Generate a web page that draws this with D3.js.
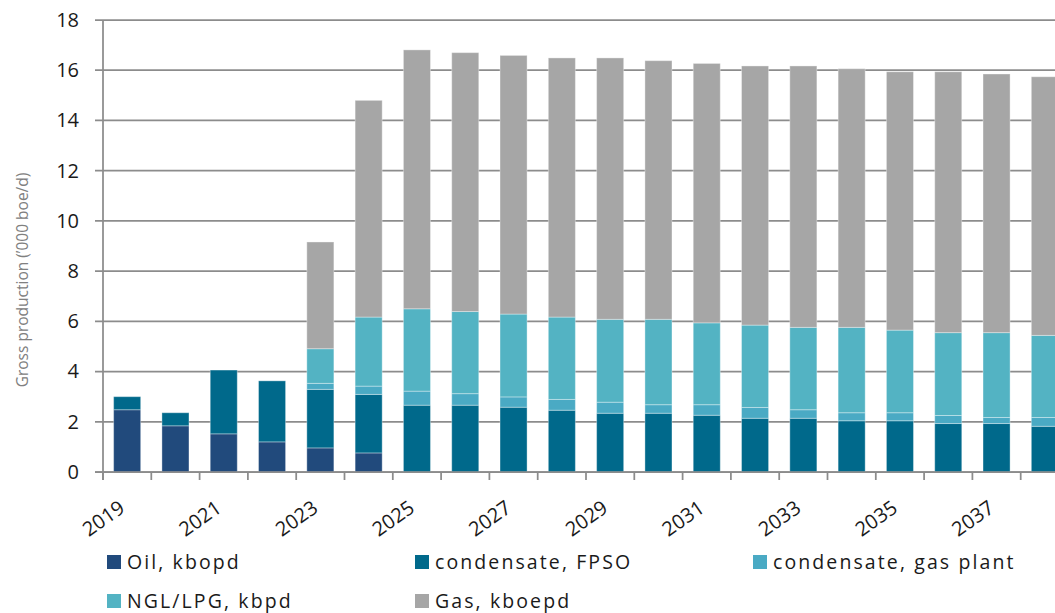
<!DOCTYPE html>
<html>
<head>
<meta charset="utf-8">
<script src="https://cdn.jsdelivr.net/npm/d3@7"></script>
<style>
    html, body { margin: 0; padding: 0; background: #fff; overflow: hidden; }
    #chart { width: 1055px; height: 613px; }
</style>
</head>
<body>
<div id="chart"></div>
<script>
// 数据
const years = ["2019", "2020", "2021", "2022", "2023", "2024", "2025", "2026", "2027", "2028",
    "2029", "2030", "2031", "2032", "2033", "2034", "2035", "2036", "2037", "2038"];
const oil = [2.48, 1.84, 1.52, 1.20, 0.96, 0.76, 0, 0, 0, 0, 0, 0, 0, 0, 0, 0, 0, 0, 0, 0];
const condFpso = [0.52, 0.52, 2.54, 2.43, 2.33, 2.33, 2.66, 2.66, 2.58, 2.46,
    2.34, 2.34, 2.26, 2.14, 2.14, 2.04, 2.04, 1.93, 1.93, 1.82];
const condGasPlant = [0, 0, 0, 0, 0.24, 0.33, 0.56, 0.46, 0.41, 0.43,
    0.44, 0.34, 0.42, 0.43, 0.34, 0.32, 0.32, 0.32, 0.24, 0.35];
const nglLpg = [0, 0, 0, 0, 1.38, 2.75, 3.28, 3.27, 3.30, 3.28,
    3.30, 3.40, 3.26, 3.28, 3.28, 3.40, 3.29, 3.30, 3.38, 3.27];
const gas = [0, 0, 0, 0, 4.25, 8.63, 10.31, 10.31, 10.30, 10.32,
    10.41, 10.30, 10.33, 10.32, 10.41, 10.30, 10.29, 10.39, 10.30, 10.30];

const seriesNames = ["Oil, kbopd", "condensate, FPSO", "condensate, gas plant", "NGL/LPG, kbpd", "Gas, kboepd"];
const seriesColors = ["#214a7c", "#00698b", "#4aaac4", "#53b3c3", "#a6a6a6"];
const yTicks = [0, 2, 4, 6, 8, 10, 12, 14, 16, 18];
const labelYears = ["2019", "2021", "2023", "2025", "2027", "2029", "2031", "2033", "2035", "2037"];

const FONT = "'Open Sans', 'Liberation Sans', sans-serif";

let svg = null;

function initSvg() {
    svg = d3.select("#chart").append("svg")
        .attr("width", 1055)
        .attr("height", 613)
        .style("font-family", FONT);
}

function drawChart() {
    const left = 103, top = 20, bottom = 472;
    const step = 48.3;
    const right = left + step * years.length;

    const x = d3.scaleBand()
        .domain(years)
        .range([left, right])
        .paddingInner(0.44)
        .paddingOuter(0.22);

    const y = d3.scaleLinear()
        .domain([0, 18])
        .range([bottom, top]);

    // 网格线
    svg.append("g")
        .selectAll("line")
        .data(yTicks)
        .join("line")
        .attr("x1", left - 8)
        .attr("x2", right)
        .attr("y1", d => y(d))
        .attr("y2", d => y(d))
        .attr("stroke", "#8c8c8c")
        .attr("stroke-width", 1.75);

    // y轴标签
    const yAxis = d3.axisLeft(y).tickValues(yTicks).tickSize(0).tickPadding(24);
    const yg = svg.append("g").attr("transform", `translate(${left},0)`).call(yAxis);
    yg.select(".domain").remove();
    yg.selectAll("text")
        .attr("font-family", FONT)
        .attr("font-size", 20)
        .attr("fill", "#1a1a1a");

    // 堆叠数据
    const table = years.map((yr, i) => ({
        year: yr,
        s0: oil[i], s1: condFpso[i], s2: condGasPlant[i], s3: nglLpg[i], s4: gas[i]
    }));
    const stack = d3.stack().keys(["s0", "s1", "s2", "s3", "s4"])(table);

    svg.append("g")
        .selectAll("g")
        .data(stack)
        .join("g")
        .attr("fill", (d, i) => seriesColors[i])
        .selectAll("rect")
        .data(d => d.filter(p => p[1] - p[0] > 0))
        .join("rect")
        .attr("x", d => x(d.data.year))
        .attr("width", x.bandwidth())
        .attr("y", d => y(d[1]))
        .attr("height", d => y(d[0]) - y(d[1]))
        .attr("stroke", "rgba(255,255,255,0.35)")
        .attr("stroke-width", 1);

    // 坐标轴线
    svg.append("line")
        .attr("x1", left).attr("x2", left)
        .attr("y1", top).attr("y2", bottom + 8)
        .attr("stroke", "#8c8c8c").attr("stroke-width", 1.75);
    svg.append("line")
        .attr("x1", left - 8).attr("x2", right)
        .attr("y1", bottom).attr("y2", bottom)
        .attr("stroke", "#8c8c8c").attr("stroke-width", 1.75);

    // x轴刻度（在类别边界）
    const bounds = d3.range(years.length + 1).map(i => left + i * x.step());
    svg.append("g")
        .selectAll("line")
        .data(bounds)
        .join("line")
        .attr("x1", d => d).attr("x2", d => d)
        .attr("y1", bottom).attr("y2", bottom + 8)
        .attr("stroke", "#8c8c8c").attr("stroke-width", 1.75);

    // x轴标签
    const xAxis = d3.axisBottom(x).tickValues(labelYears).tickSize(0).tickPadding(0);
    const xg = svg.append("g").attr("transform", `translate(0,${bottom})`).call(xAxis);
    xg.select(".domain").remove();
    xg.selectAll("text")
        .attr("font-family", FONT)
        .attr("font-size", 20)
        .attr("fill", "#1a1a1a")
        .attr("text-anchor", "end")
        .attr("dy", 0)
        .attr("transform", "translate(-1,39) rotate(-35)");

    // y轴标题
    svg.append("text")
        .attr("transform", "translate(28,280) rotate(-90)")
        .attr("text-anchor", "middle")
        .attr("font-size", 15.5)
        .attr("fill", "#808080")
        .text("Gross production (\u2019000 boe/d)");

    // 图例
    const legendPos = [[107, 562], [415, 562], [753, 562], [107, 601], [415, 601]];
    const legend = svg.append("g")
        .selectAll("g")
        .data(seriesNames)
        .join("g")
        .attr("transform", (d, i) => `translate(${legendPos[i][0]},${legendPos[i][1]})`);
    legend.append("rect")
        .attr("x", 0).attr("y", -7)
        .attr("width", 14).attr("height", 14)
        .attr("fill", (d, i) => seriesColors[i]);
    legend.append("text")
        .attr("x", 20)
        .attr("y", 0)
        .attr("dy", "0.35em")
        .attr("font-size", 19.5)
        .attr("letter-spacing", 2.1)
        .attr("fill", "#1a1a1a")
        .text(d => d);
}

initSvg();
drawChart();
</script>
</body>
</html>
